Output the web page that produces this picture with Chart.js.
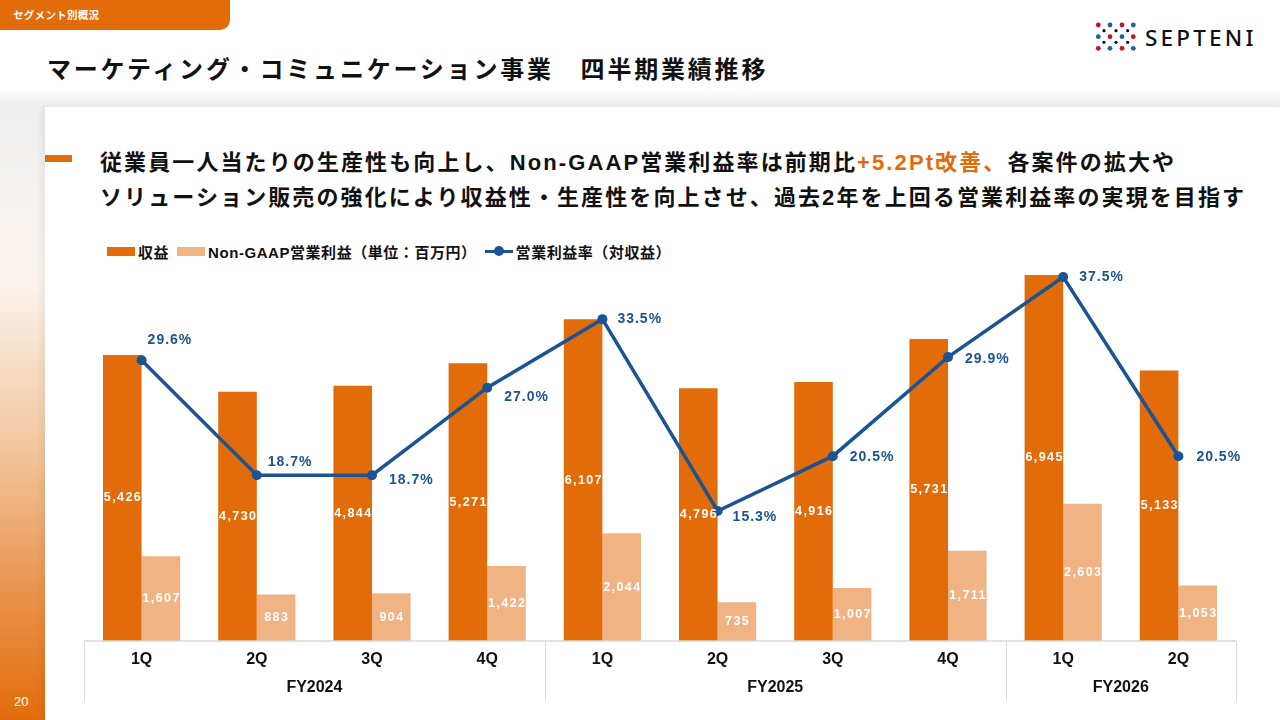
<!DOCTYPE html>
<html lang="ja">
<head>
<meta charset="utf-8">
<title>マーケティング・コミュニケーション事業 四半期業績推移</title>
<script src="https://cdn.jsdelivr.net/npm/chart.js@4.4.1/dist/chart.umd.min.js"></script>
<style>
  html, body { margin: 0; padding: 0; }
  body {
    width: 1280px; height: 720px; position: relative; overflow: hidden;
    background: #fff;
    font-family: "Liberation Sans", "Noto Sans CJK JP", sans-serif;
  }
  .tab {
    position: absolute; left: 0; top: 0; width: 230px; height: 30px;
    background: #e36c0a; border-bottom-right-radius: 10px;
  }
  .tab span {
    position: absolute; left: 13px; top: 7px; color: #fff;
    font: 700 10.5px "Noto Sans CJK JP", sans-serif; letter-spacing: 0.3px;
  }
  .title {
    position: absolute; left: 47px; top: 50px; margin: 0;
    font: 700 24px "Noto Sans CJK JP", sans-serif; letter-spacing: 2.8px; color: #111;
    white-space: nowrap;
  }
  .logo { position: absolute; left: 1090px; top: 18px; }
  .logo-text {
    position: absolute; left: 1145px; top: 22px;
    font: 500 22.5px "Noto Sans", sans-serif; letter-spacing: 3.2px; color: #111;
  }
  .band {
    position: absolute; left: 0; top: 88px; width: 1280px; height: 20px;
    background: linear-gradient(to bottom, #ffffff, #ececec);
  }
  .strip {
    position: absolute; left: 0; top: 107px; width: 45px; height: 613px;
    background: linear-gradient(to bottom, #eeeeee 0%, #fbf4ee 28%, #f2c7a0 55%, #e9914a 80%, #e36c0a 100%);
  }
  .panel {
    position: absolute; left: 45px; top: 107px; width: 1235px; height: 613px;
    background: #fff; box-shadow: -4px 0 6px rgba(0,0,0,0.05);
  }
  .pageno {
    position: absolute; left: 14px; top: 694px; color: #fff;
    font: 400 13px "Liberation Sans", sans-serif;
  }
  .dash {
    position: absolute; left: 45px; top: 155px; width: 27px; height: 7px; background: #e36c0a;
  }
  .lead {
    position: absolute; left: 100px; top: 145px; margin: 0;
    font-weight: 700; font-size: 22px; line-height: 35px; letter-spacing: 2.1px; color: #111;
    white-space: nowrap;
  }
  .lead em { font-style: normal; color: #e36c0a; }
  .legend {
    position: absolute; left: 107px; top: 241px; height: 20px;
    display: flex; align-items: center;
    font-weight: 700; font-size: 15px; letter-spacing: 0.55px; color: #111; white-space: nowrap;
  }
  .legend .sw { display: inline-block; width: 28px; height: 9px; margin-right: 3px; }
  .legend .item { display: flex; align-items: center; margin-right: 8px; }
  .legend .ln { position: relative; width: 28px; height: 3px; background: #1a5493; margin-right: 3px; }
  .legend .ln::after {
    content: ""; position: absolute; left: 9px; top: -3.5px; width: 10px; height: 10px;
    border-radius: 50%; background: #1a5493;
  }
  #chartBox { position: absolute; left: 44px; top: 230px; width: 1236px; height: 490px; }
</style>
</head>
<body>
<div class="band"></div>
<div class="strip"></div>
<div class="panel"></div>
<div class="tab"><span>セグメント別概況</span></div>
<h1 class="title">マーケティング・コミュニケーション事業　四半期業績推移</h1>

<svg class="logo" width="52" height="36" viewBox="0 0 52 36">
  <g id="dots"></g>
</svg>
<div class="logo-text">SEPTENI</div>

<div class="dash"></div>
<p class="lead">従業員一人当たりの生産性も向上し、Non-GAAP営業利益率は前期比<em>+5.2Pt改善、</em>各案件の拡大や<br>ソリューション販売の強化により収益性・生産性を向上させ、過去2年を上回る営業利益率の実現を目指す</p>

<div class="legend">
  <span class="item"><span class="sw" style="background:#e36c0a"></span>収益</span>
  <span class="item"><span class="sw" style="background:#f0b383"></span>Non-GAAP営業利益（単位：百万円）</span>
  <span class="item"><span class="ln"></span>営業利益率（対収益）</span>
</div>

<div id="chartBox"><canvas id="perfChart"></canvas></div>
<div class="pageno">20</div>

<script>
// quarterly figures (百万円) and operating margin (%)
const quarters = ['1Q', '2Q', '3Q', '4Q', '1Q', '2Q', '3Q', '4Q', '1Q', '2Q'];
const fiscalYears = ['FY2024', 'FY2025', 'FY2026'];
const quartersPerYear = [4, 4, 2];
const revenue = [5426, 4730, 4844, 5271, 6107, 4796, 4916, 5731, 6945, 5133];
const nonGaapProfit = [1607, 883, 904, 1422, 2044, 735, 1007, 1711, 2603, 1053];
const marginRate = [29.6, 18.7, 18.7, 27.0, 33.5, 15.3, 20.5, 29.9, 37.5, 20.5];

const ORANGE = '#e36c0a';
const LIGHT_ORANGE = '#f0b383';
const BLUE = '#1a5493';

// logo dots
(function () {
  var g = document.getElementById('dots');
  var svg = '';
  var cols = [8.3, 20, 32, 43.3];
  var rows = [7, 18.7, 30.3];
  for (var r = 0; r < 3; r++) {
    for (var c = 0; c < 4; c++) {
      var red = (r + c) % 2 === 0;
      svg += '<circle cx="' + cols[c] + '" cy="' + rows[r] + '" r="2.4" fill="' + (red ? '#c8102e' : '#1f5fa8') + '"/>';
    }
  }
  var bx = [14, 26, 37.7];
  var by = [12.7, 24.3];
  for (var i = 0; i < 2; i++) {
    for (var j = 0; j < 3; j++) {
      svg += '<circle cx="' + bx[j] + '" cy="' + by[i] + '" r="1.6" fill="#111"/>';
    }
  }
  g.innerHTML = svg;
})();

// little nudges so the % labels sit where the slide has them
var rateLabelDx = [6, 11, 17, 17, 15, 15, 17, 17, 16, 18];
var rateLabelDy = [-20, -13, 5, 9, 0, 6, 1, 2, 0, 1];

const valueLabels = {
  id: 'valueLabels',
  afterDatasetsDraw(chart) {
    var ctx = chart.ctx;
    ctx.save();
    ctx.textAlign = 'center';
    ctx.textBaseline = 'middle';
    ctx.fillStyle = '#fff';
    ctx.font = 'bold 12.5px "Liberation Sans", Arial, sans-serif';
    ctx.letterSpacing = '1.4px';
    [0, 1].forEach(function (di) {
      var meta = chart.getDatasetMeta(di);
      meta.data.forEach(function (bar, i) {
        var v = chart.data.datasets[di].data[i];
        var y = (bar.y + bar.base) / 2;
        ctx.fillText(v.toLocaleString('en-US'), bar.x + 0.7, y);
      });
    });
    ctx.textAlign = 'left';
    ctx.fillStyle = BLUE;
    ctx.font = 'bold 14px "Liberation Sans", Arial, sans-serif';
    ctx.letterSpacing = '1px';
    var lineMeta = chart.getDatasetMeta(2);
    lineMeta.data.forEach(function (pt, i) {
      var v = chart.data.datasets[2].data[i];
      ctx.fillText(v.toFixed(1) + '%', pt.x + rateLabelDx[i], pt.y + rateLabelDy[i]);
    });
    ctx.restore();
  }
};

// bottom table: quarter row, fiscal year row and separators
const yearAxis = {
  id: 'yearAxis',
  afterDraw(chart) {
    var ctx = chart.ctx;
    var xs = chart.scales.x;
    var area = chart.chartArea;
    var bottom = area.bottom;
    ctx.save();
    ctx.strokeStyle = '#d9d9d9';
    ctx.lineWidth = 1.5;
    ctx.beginPath();
    ctx.moveTo(area.left, bottom);
    ctx.lineTo(area.right, bottom);
    ctx.stroke();

    ctx.fillStyle = '#111';
    ctx.textAlign = 'center';
    ctx.textBaseline = 'middle';
    ctx.font = 'bold 16px "Liberation Sans", Arial, sans-serif';
    quarters.forEach(function (q, i) {
      ctx.fillText(q, xs.getPixelForValue(i), bottom + 19);
    });

    var start = 0;
    var edges = [area.left];
    quartersPerYear.forEach(function (n, k) {
      var end = start + n;
      var right = end >= quarters.length ? area.right
        : (xs.getPixelForValue(end - 1) + xs.getPixelForValue(end)) / 2;
      edges.push(right);
      ctx.fillText(fiscalYears[k], (edges[k] + right) / 2, bottom + 47);
      start = end;
    });
    ctx.lineWidth = 1;
    edges.forEach(function (x) {
      ctx.beginPath();
      ctx.moveTo(Math.round(x) + 0.5, bottom);
      ctx.lineTo(Math.round(x) + 0.5, bottom + 60);
      ctx.stroke();
    });
    ctx.restore();
  }
};

new Chart(document.getElementById('perfChart'), {
  type: 'bar',
  data: {
    labels: quarters,
    datasets: [{
      label: '収益',
      data: revenue,
      backgroundColor: ORANGE,
      yAxisID: 'y',
      order: 1,
      categoryPercentage: 0.67,
      barPercentage: 1
    }, {
      label: 'Non-GAAP営業利益（単位：百万円）',
      data: nonGaapProfit,
      backgroundColor: LIGHT_ORANGE,
      yAxisID: 'y',
      order: 1,
      categoryPercentage: 0.67,
      barPercentage: 1
    }, {
      type: 'line',
      label: '営業利益率（対収益）',
      data: marginRate,
      borderColor: BLUE,
      backgroundColor: BLUE,
      borderWidth: 3.5,
      pointRadius: 5,
      pointBackgroundColor: BLUE,
      pointBorderWidth: 0,
      yAxisID: 'y1',
      order: 0,
      tension: 0
    }]
  },
  options: {
    responsive: true,
    maintainAspectRatio: false,
    animation: false,
    layout: { padding: { left: 40, right: 44, top: 30, bottom: 79 } },
    plugins: {
      legend: { display: false },
      tooltip: { enabled: false }
    },
    scales: {
      x: { display: false, offset: true },
      y: { display: false, min: 0, max: 7230 },
      y1: { display: false, min: 2.97, max: 39.11, position: 'right' }
    }
  },
  plugins: [valueLabels, yearAxis]
});
</script>
</body>
</html>
